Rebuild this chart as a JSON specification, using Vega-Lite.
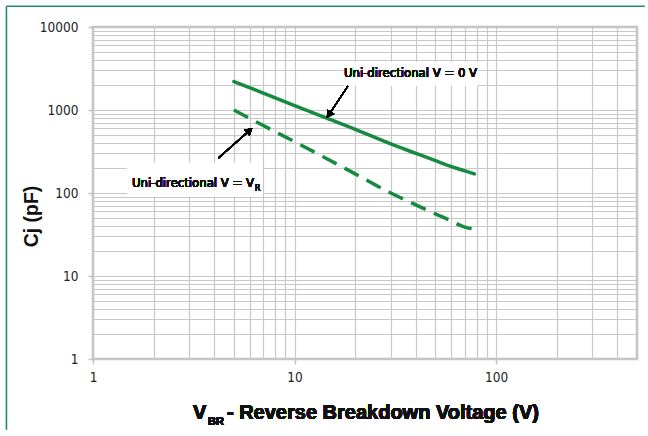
{
  "$schema": "https://vega.github.io/schema/vega-lite/v6.json",
  "width": 544,
  "height": 332,
  "autosize": {"type": "none"},
  "padding": {"left": 93, "top": 27, "right": 11, "bottom": 77},
  "background": "white",
  "config": {
    "view": {"stroke": "#c2c2c2", "strokeWidth": 2.5},
    "font": "DejaVu Sans Condensed, Roboto, sans-serif"
  },
  "data": {
    "values": [
      {"v": 5, "c": 2200, "series": "V = 0 V"},
      {"v": 7, "c": 1600, "series": "V = 0 V"},
      {"v": 10, "c": 1130, "series": "V = 0 V"},
      {"v": 14, "c": 820, "series": "V = 0 V"},
      {"v": 20, "c": 585, "series": "V = 0 V"},
      {"v": 30, "c": 390, "series": "V = 0 V"},
      {"v": 40, "c": 300, "series": "V = 0 V"},
      {"v": 50, "c": 245, "series": "V = 0 V"},
      {"v": 60, "c": 208, "series": "V = 0 V"},
      {"v": 70, "c": 185, "series": "V = 0 V"},
      {"v": 78, "c": 170, "series": "V = 0 V"},
      {"v": 5, "c": 1000, "series": "V = VR"},
      {"v": 7, "c": 650, "series": "V = VR"},
      {"v": 10, "c": 415, "series": "V = VR"},
      {"v": 14, "c": 270, "series": "V = VR"},
      {"v": 20, "c": 170, "series": "V = VR"},
      {"v": 30, "c": 100, "series": "V = VR"},
      {"v": 40, "c": 72, "series": "V = VR"},
      {"v": 50, "c": 56, "series": "V = VR"},
      {"v": 60, "c": 46, "series": "V = VR"},
      {"v": 66, "c": 41, "series": "V = VR"},
      {"v": 72, "c": 38, "series": "V = VR"},
      {"v": 78, "c": 37, "series": "V = VR"}
    ]
  },
  "resolve": {"axis": {"x": "independent", "y": "independent"}},
  "layer": [
    {
      "transform": [{"filter": "datum.series === 'V = 0 V'"}],
      "mark": {"type": "line", "color": "#168a40", "strokeWidth": 3.5, "interpolate": "monotone", "strokeCap": "round"},
      "encoding": {
        "x": {
          "field": "v", "type": "quantitative",
          "scale": {"type": "log", "domain": [1, 500], "nice": false},
          "axis": {
            "orient": "bottom",
            "values": [1,2,3,4,5,6,7,8,9,10,20,30,40,50,60,70,80,90,100,200,300,400,500],
            "labels": false,
            "ticks": false,
            "title": null,
            "grid": true,
            "gridColor": "#c8c8c8",
            "gridWidth": 1.2,
            "domain": false
          }
        },
        "y": {
          "field": "c", "type": "quantitative",
          "scale": {"type": "log", "domain": [1, 10000], "nice": false},
          "axis": {
            "orient": "left",
            "values": [1,2,3,4,5,6,7,8,9,10,20,30,40,50,60,70,80,90,100,200,300,400,500,600,700,800,900,1000,2000,3000,4000,5000,6000,7000,8000,9000,10000],
            "labels": false,
            "ticks": false,
            "title": null,
            "grid": true,
            "gridColor": "#c8c8c8",
            "gridWidth": 1.2,
            "domain": false
          }
        }
      }
    },
    {
      "transform": [{"filter": "datum.series === 'V = VR'"}],
      "mark": {"type": "line", "color": "#168a40", "strokeWidth": 3.5, "interpolate": "monotone", "strokeDash": [16, 9]},
      "encoding": {
        "x": {
          "field": "v", "type": "quantitative",
          "axis": {
            "orient": "bottom",
            "values": [1, 10, 100],
            "format": "d",
            "title": null,
            "grid": false,
            "domain": false,
            "tickColor": "#c2c2c2",
            "tickSize": 5,
            "tickWidth": 1.5,
            "labelFont": "DejaVu Sans Condensed, Roboto, sans-serif",
            "labelFontSize": 13.5,
            "labelColor": "#222222",
            "labelPadding": 6,
            "labelFlush": false,
            "labelOverlap": false
          }
        },
        "y": {
          "field": "c", "type": "quantitative",
          "axis": {
            "orient": "left",
            "values": [1, 10, 100, 1000, 10000],
            "format": "d",
            "title": "Cj (pF)",
            "titleFont": "Liberation Sans",
            "titleFontWeight": "bold",
            "titleFontSize": 19.5,
            "titleColor": "#111111",
            "titleX": -62,
            "titleY": 189,
            "titleAngle": -90,
            "titleBaseline": "middle",
            "grid": false,
            "domain": false,
            "tickColor": "#c2c2c2",
            "tickSize": 5,
            "tickWidth": 1.5,
            "labelFont": "DejaVu Sans Condensed, Roboto, sans-serif",
            "labelFontSize": 13.5,
            "labelColor": "#222222",
            "labelPadding": 10,
            "labelFlush": false,
            "labelOverlap": false
          }
        }
      }
    },
    {
      "data": {"values": [{}]},
      "mark": {"type": "rule", "stroke": "#1f8f6a", "strokeWidth": 1.6},
      "encoding": {
        "x": {"datum": 0.372, "type": "quantitative", "axis": null},
        "x2": {"datum": 547},
        "y": {"datum": 17800, "type": "quantitative", "axis": null},
        "y2": {"datum": 17800}
      }
    },
    {
      "data": {"values": [{}]},
      "mark": {"type": "rule", "stroke": "#1f8f6a", "strokeWidth": 1.6},
      "encoding": {
        "x": {"datum": 0.372, "type": "quantitative", "axis": null},
        "x2": {"datum": 0.372},
        "y": {"datum": 17800, "type": "quantitative", "axis": null},
        "y2": {"datum": 0.14}
      }
    },
    {
      "mark": {"type": "rect", "fill": "white", "stroke": null},
      "encoding": {
        "x": {"datum": 17.7, "type": "quantitative", "axis": null},
        "x2": {"datum": 81.3},
        "y": {"datum": 3788, "type": "quantitative", "axis": null},
        "y2": {"datum": 1946}
      }
    },
    {
      "mark": {"type": "rect", "fill": "white", "stroke": null},
      "encoding": {
        "x": {"datum": 1.476, "type": "quantitative", "axis": null},
        "x2": {"datum": 6.93},
        "y": {"datum": 230, "type": "quantitative", "axis": null},
        "y2": {"datum": 89.5}
      }
    },
    {
      "mark": {"type": "rule", "color": "black", "strokeWidth": 1.2},
      "encoding": {
        "x": {"datum": 18.4, "type": "quantitative", "axis": null},
        "x2": {"datum": 14.9},
        "y": {"datum": 1946, "type": "quantitative", "axis": null},
        "y2": {"datum": 900}
      }
    },
    {
      "mark": {"type": "point", "shape": "triangle", "filled": true, "color": "black", "size": 70, "angle": 213, "opacity": 1},
      "encoding": {
        "x": {"datum": 14.9, "type": "quantitative", "axis": null},
        "y": {"datum": 900, "type": "quantitative", "axis": null}
      }
    },
    {
      "mark": {"type": "rule", "color": "black", "strokeWidth": 1.2},
      "encoding": {
        "x": {"datum": 4.19, "type": "quantitative", "axis": null},
        "x2": {"datum": 5.92},
        "y": {"datum": 264, "type": "quantitative", "axis": null},
        "y2": {"datum": 554}
      }
    },
    {
      "mark": {"type": "point", "shape": "triangle", "filled": true, "color": "black", "size": 70, "angle": 48.6, "opacity": 1},
      "encoding": {
        "x": {"datum": 5.92, "type": "quantitative", "axis": null},
        "y": {"datum": 554, "type": "quantitative", "axis": null}
      }
    },
    {
      "mark": {"type": "text", "font": "DejaVu Sans Condensed, Roboto, sans-serif", "fontSize": 13, "color": "#111111", "align": "center", "baseline": "middle"},
      "encoding": {
        "x": {"datum": 37.6, "type": "quantitative", "axis": null},
        "y": {"datum": 2791, "type": "quantitative", "axis": null},
        "text": {"value": "Uni-directional V = 0 V"}
      }
    },
    {
      "mark": {"type": "text", "font": "DejaVu Sans Condensed, Roboto, sans-serif", "fontSize": 13, "color": "#111111", "align": "left", "baseline": "middle"},
      "encoding": {
        "x": {"datum": 1.561, "type": "quantitative", "axis": null},
        "y": {"datum": 131.9, "type": "quantitative", "axis": null},
        "text": {"value": "Uni-directional V = V"}
      }
    },
    {
      "mark": {"type": "text", "font": "DejaVu Sans Condensed, Roboto, sans-serif", "fontSize": 8.5, "color": "#111111", "align": "left", "baseline": "middle"},
      "encoding": {
        "x": {"datum": 6.36, "type": "quantitative", "axis": null},
        "y": {"datum": 114.9, "type": "quantitative", "axis": null},
        "text": {"value": "R"}
      }
    },
    {
      "mark": {"type": "text", "font": "Liberation Sans", "fontWeight": "bold", "fontSize": 20, "color": "#111111", "align": "left", "baseline": "middle", "dy": 54, "clip": false},
      "encoding": {
        "x": {"datum": 3.13, "type": "quantitative", "axis": null},
        "y": {"datum": 1, "type": "quantitative", "axis": null},
        "text": {"value": "V"}
      }
    },
    {
      "mark": {"type": "text", "font": "Liberation Sans", "fontWeight": "bold", "fontSize": 11, "color": "#111111", "align": "left", "baseline": "middle", "dy": 63, "clip": false},
      "encoding": {
        "x": {"datum": 3.72, "type": "quantitative", "axis": null},
        "y": {"datum": 1, "type": "quantitative", "axis": null},
        "text": {"value": "BR"}
      }
    },
    {
      "mark": {"type": "text", "font": "Liberation Sans", "fontWeight": "bold", "fontSize": 20, "color": "#111111", "align": "left", "baseline": "middle", "dy": 54, "clip": false},
      "encoding": {
        "x": {"datum": 4.62, "type": "quantitative", "axis": null},
        "y": {"datum": 1, "type": "quantitative", "axis": null},
        "text": {"value": "- Reverse Breakdown Voltage (V)"}
      }
    }
  ]
}
